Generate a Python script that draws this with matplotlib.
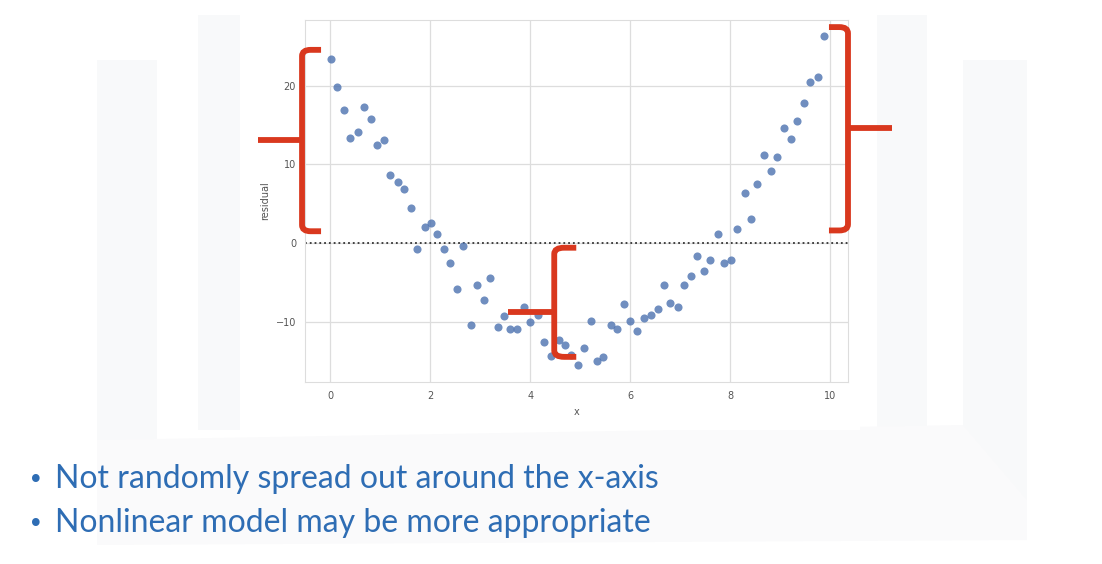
import matplotlib
matplotlib.use('Agg')
import matplotlib.pyplot as plt
from matplotlib.patches import Polygon, PathPatch
from matplotlib.path import Path
import seaborn as sns

# residuals
x_vals = [0.01, 0.13, 0.28, 0.40, 0.55, 0.67, 0.82, 0.94, 1.08, 1.20,
          1.35, 1.47, 1.62, 1.74, 1.89, 2.01, 2.13, 2.28, 2.40, 2.54,
          2.66, 2.81, 2.93, 3.08, 3.20, 3.35, 3.47, 3.60, 3.73, 3.88,
          4.00, 4.15, 4.27, 4.42, 4.57, 4.69, 4.82, 4.95, 5.07, 5.21,
          5.34, 5.46, 5.61, 5.73, 5.87, 5.99, 6.14, 6.27, 6.41, 6.55,
          6.68, 6.80, 6.95, 7.07, 7.21, 7.34, 7.48, 7.60, 7.75, 7.87,
          8.02, 8.14, 8.29, 8.41, 8.54, 8.67, 8.81, 8.94, 9.08, 9.21,
          9.34, 9.48, 9.60, 9.75, 9.87]
residual = [23.4, 19.9, 16.9, 13.4, 14.1, 17.3, 15.8, 12.5, 13.1, 8.7,
            7.8, 6.9, 4.5, -0.7, 2.1, 2.6, 1.1, -0.7, -2.5, -5.8,
            -0.4, -10.4, -5.3, -7.3, -4.4, -10.7, -9.3, -11.0, -10.9, -8.2,
            -10.1, -9.2, -12.6, -14.4, -12.4, -13.0, -14.3, -15.5, -13.4, -9.9,
            -15.0, -14.5, -10.4, -10.9, -7.8, -9.9, -11.2, -9.6, -9.2, -8.4,
            -5.4, -7.6, -8.2, -5.4, -4.2, -1.7, -3.6, -2.1, 1.1, -2.5,
            -2.2, 1.8, 6.4, 3.1, 7.5, 11.2, 9.2, 10.9, 14.7, 13.2,
            15.5, 17.8, 20.5, 21.1, 26.4]

bullets = ['Not randomly spread out around the x-axis',
           'Nonlinear model may be more appropriate']

# braces drawn on the slide: (x of spine, top, bottom, middle, arm, tick) in data units
braces = [(-0.56, 24.6, 1.5, 13.1, 0.38, -0.87),
          (10.35, 27.5, 1.6, 14.6, -0.38, 0.87),
          (4.48, -0.6, -14.5, -8.8, 0.44, -0.92)]
brace_red = '#d9381e'

sns.set_style('whitegrid')
plt.rcParams['font.family'] = ['DejaVu Sans']

fig = plt.figure(figsize=(11.02, 5.64), dpi=100)
fig.patch.set_facecolor('white')

# faint slide background shapes
bg = fig.add_axes([0, 0, 1, 1], zorder=0)
bg.set_xlim(0, 1102)
bg.set_ylim(564, 0)
bg.axis('off')
for poly, shade in [([(97, 60), (157, 60), (157, 470), (97, 470)], '#f8f9fa'),
                    ([(198, 15), (240, 15), (240, 430), (198, 430)], '#f8f9fa'),
                    ([(877, 15), (927, 15), (927, 430), (877, 430)], '#f8f9fa'),
                    ([(963, 60), (1027, 60), (1027, 510), (963, 510)], '#f8f9fa'),
                    ([(97, 440), (963, 425), (1027, 500), (1027, 540), (97, 545)], '#fafafb')]:
    bg.add_patch(Polygon(poly, closed=True, fc=shade, ec='none'))
bg.add_patch(Polygon([(250, 0), (860, 0), (860, 430), (250, 430)],
                     closed=True, fc='white', ec='none'))

ax = fig.add_axes([0.2768, 0.3227, 0.4927, 0.6418], zorder=2)
ax.scatter(x_vals, residual, s=34, color='#4c72b0', alpha=0.8,
           linewidths=0, zorder=3)
ax.axhline(0, ls=':', c='.2', lw=1.3, zorder=2)
ax.set_xlim(-0.5, 10.35)
ax.set_ylim(-17.7, 28.4)
ax.set_xticks([0, 2, 4, 6, 8, 10])
ax.set_yticks([-10, 0, 10, 20])
ax.tick_params(labelsize=7, colors='#555555', pad=3)
ax.set_xlabel('x', fontsize=7, color='#555555')
ax.set_ylabel('residual', fontsize=7, color='#555555', labelpad=4)
ax.grid(color='#dddddd', lw=0.9)
for sp in ax.spines.values():
    sp.set_color('#dddddd')

# brace outline, corners only slightly rounded
for bx, top, bot, mid, arm, tick in braces:
    ry = 0.8
    verts = [(bx + arm, top), (bx + arm * 0.45, top), (bx, top), (bx, top - ry),
             (bx, bot + ry), (bx, bot), (bx + arm * 0.45, bot), (bx + arm, bot)]
    codes = [Path.MOVETO, Path.LINETO, Path.CURVE3, Path.CURVE3,
             Path.LINETO, Path.CURVE3, Path.CURVE3, Path.LINETO]
    ax.add_patch(PathPatch(Path(verts, codes), fc='none', ec=brace_red,
                           lw=4.2, capstyle='butt', clip_on=False, zorder=5))
    ax.plot([bx, bx + tick], [mid, mid], color=brace_red, lw=4.2,
            solid_capstyle='butt', clip_on=False, zorder=5)

for i, line in enumerate(bullets):
    y = 1 - (488 + i * 44) / 564
    fig.text(0.025, y, '\u2022', fontsize=19, color='#2e6db4',
             family='DejaVu Sans', va='baseline')
    fig.text(0.050, y, line, fontsize=23, color='#2e6db4',
             family='Lato', va='baseline')

fig.savefig('out.png', dpi=100)
